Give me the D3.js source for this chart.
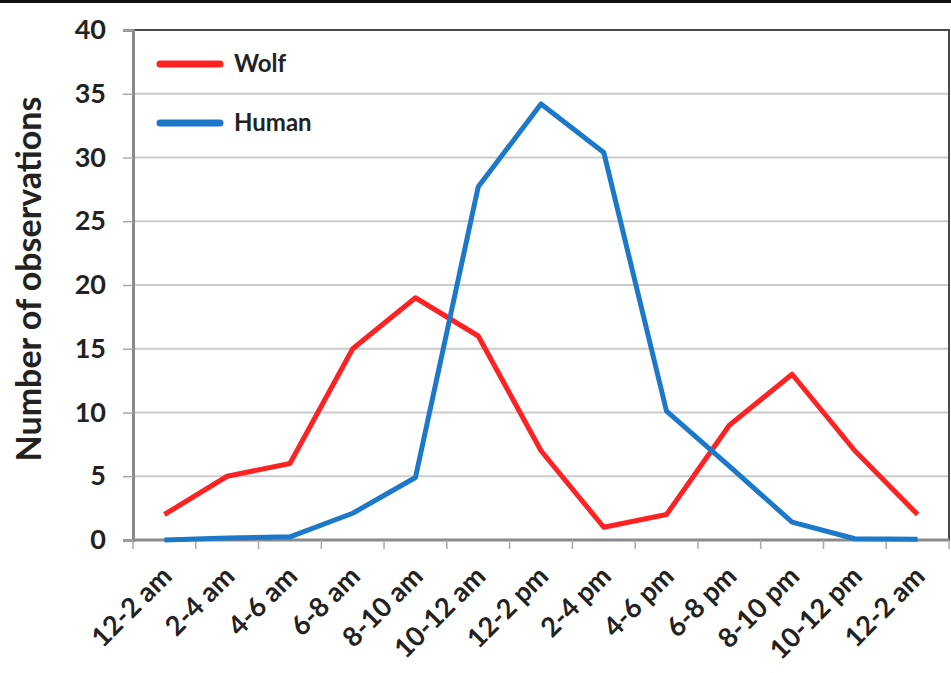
<!DOCTYPE html>
<html>
<head>
<meta charset="utf-8">
<script src="https://cdn.jsdelivr.net/npm/d3@7"></script>
<style>
  body { margin: 0; background: #fff; }
  svg { display: block; }
</style>
</head>
<body>
<script>
"use strict";

// data
const periods = ['12-2 am', '2-4 am', '4-6 am', '6-8 am', '8-10 am', '10-12 am',
                 '12-2 pm', '2-4 pm', '4-6 pm', '6-8 pm', '8-10 pm', '10-12 pm', '12-2 am '];
const wolf  = [2, 5, 6, 15, 19, 16, 7, 1, 2, 9, 13, 7, 2];
const human = [0, 0.15, 0.25, 2.1, 4.9, 27.7, 34.2, 30.4, 10.1, 5.8, 1.4, 0.1, 0.05];
const yTicks = [0, 5, 10, 15, 20, 25, 30, 35, 40];

const series = [
    {name: 'Wolf', values: wolf, color: '#ff2222'},
    {name: 'Human', values: human, color: '#1c78c8'}
];

const W = 951, H = 673;
const margin = {top: 30, left: 133, right: 2, bottom: 133};
const font = 'Lato, "Open Sans", sans-serif';

const svg = d3.select('body').append('svg')
    .attr('width', W)
    .attr('height', H);

// black strip along the top of the image
svg.append('rect')
    .attr('x', 0).attr('y', 0)
    .attr('width', W).attr('height', 3)
    .attr('fill', '#111');

const x = d3.scaleBand()
    .domain(periods)
    .range([margin.left, W - margin.right]);

const y = d3.scaleLinear()
    .domain([0, 40])
    .range([H - margin.bottom, margin.top]);

// grid
svg.append('g')
    .selectAll('line')
    .data(yTicks.filter(d => d > 0 && d < 40))
    .enter().append('line')
    .attr('x1', margin.left).attr('x2', W - margin.right)
    .attr('y1', d => y(d)).attr('y2', d => y(d))
    .attr('stroke', '#cbcbcb')
    .attr('stroke-width', 2);

// frame
svg.append('rect')
    .attr('x', margin.left).attr('y', margin.top)
    .attr('width', W - margin.right - margin.left)
    .attr('height', y(0) - margin.top)
    .attr('fill', 'none')
    .attr('stroke', '#4a4a4a')
    .attr('stroke-width', 2);

// y axis
const yAxis = svg.append('g')
    .attr('transform', 'translate(' + margin.left + ',0)')
    .call(d3.axisLeft(y).tickValues(yTicks).tickSize(10).tickPadding(17));
yAxis.select('.domain').attr('stroke', '#8a8a8a').attr('stroke-width', 3);
yAxis.selectAll('.tick line').attr('stroke', '#aaa').attr('stroke-width', 1.5);
yAxis.selectAll('.tick text')
    .attr('fill', '#222')
    .style('font-family', font)
    .style('font-weight', 'bold')
    .style('font-size', '27px');

// x axis: ticks sit between categories
const xAxis = svg.append('g')
    .attr('transform', 'translate(0,' + y(0) + ')');
xAxis.append('line')
    .attr('x1', margin.left).attr('x2', W - margin.right)
    .attr('stroke', '#8a8a8a').attr('stroke-width', 3);
xAxis.selectAll('line.tk')
    .data(periods)
    .enter().append('line')
    .attr('class', 'tk')
    .attr('x1', d => x(d)).attr('x2', d => x(d))
    .attr('y1', 0).attr('y2', 9)
    .attr('stroke', '#aaa').attr('stroke-width', 1.5);
xAxis.append('line')
    .attr('x1', W - margin.right).attr('x2', W - margin.right)
    .attr('y1', 0).attr('y2', 9)
    .attr('stroke', '#aaa').attr('stroke-width', 1.5);
xAxis.selectAll('text')
    .data(periods)
    .enter().append('text')
    .attr('transform', d => 'translate(' + (x(d) + x.bandwidth() / 2 + 9) + ',38) rotate(-45)')
    .attr('text-anchor', 'end')
    .attr('fill', '#222')
    .style('font-family', font)
    .style('font-weight', 'bold')
    .style('font-size', '27px')
    .text(d => d.trim());

// y label
svg.append('text')
    .attr('transform', 'translate(41,' + (y(20) - 6) + ') rotate(-90)')
    .attr('text-anchor', 'middle')
    .attr('fill', '#222')
    .style('font-family', font)
    .style('font-weight', 'bold')
    .style('font-size', '34px')
    .text('Number of observations');

// lines
const line = d3.line()
    .x((d, i) => x(periods[i]) + x.bandwidth() / 2)
    .y(d => y(d));

series.forEach((s) => {
    svg.append('path')
        .datum(s.values)
        .attr('d', line)
        .attr('fill', 'none')
        .attr('stroke', s.color)
        .attr('stroke-width', 5)
        .attr('stroke-linejoin', 'round');
});

// legend
const legend = svg.append('g')
    .selectAll('g')
    .data(series)
    .enter().append('g')
    .attr('transform', (d, i) => 'translate(160,' + (64 + i * 59) + ')');
legend.append('line')
    .attr('x1', 0).attr('x2', 60)
    .attr('stroke', d => d.color)
    .attr('stroke-width', 7)
    .attr('stroke-linecap', 'round');
legend.append('text')
    .attr('x', 74)
    .attr('dy', '0.35em')
    .attr('fill', '#222')
    .style('font-family', font)
    .style('font-weight', 'bold')
    .style('font-size', '24px')
    .text(d => d.name);
</script>
</body>
</html>
